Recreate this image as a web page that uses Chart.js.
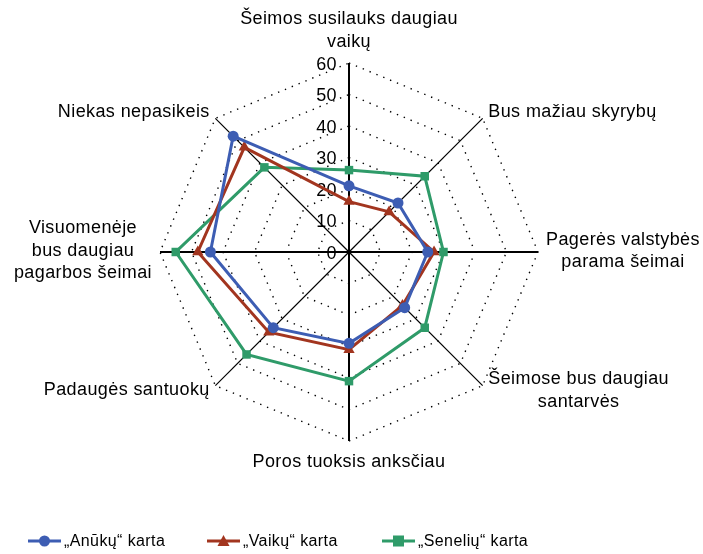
<!DOCTYPE html>
<html>
<head>
<meta charset="utf-8">
<script src="https://cdn.jsdelivr.net/npm/chart.js@4"></script>
<style>
  html, body { margin: 0; padding: 0; background: #fff; }
  #wrap { position: relative; width: 703px; height: 554px; }
  #c { position: absolute; left: 0; top: 0; }
  #legend { position: absolute; left: 0; top: 530px; width: 703px; height: 22px;
    font-family: "Liberation Sans", Arial, sans-serif; font-size: 16px; color: #000; }
  .item { position: absolute; top: 0; height: 22px; line-height: 22px; white-space: nowrap; letter-spacing: 0.4px; }
  .item canvas { vertical-align: middle; margin-right: 3px; position: relative; top: -1px; }
</style>
</head>
<body>
<div id="wrap">
  <canvas id="c" width="703" height="554"></canvas>
  <div id="legend"></div>
</div>
<script>
const categories = [
  ["Šeimos susilauks daugiau", "vaikų"],
  ["Bus mažiau skyrybų"],
  ["Pagerės valstybės", "parama šeimai"],
  ["Šeimose bus daugiau", "santarvės"],
  ["Poros tuoksis anksčiau"],
  ["Padaugės santuokų"],
  ["Visuomenėje", "bus daugiau", "pagarbos šeimai"],
  ["Niekas nepasikeis"]
];
const seriesNames = ["„Anūkų“ karta", "„Vaikų“ karta", "„Senelių“ karta"];
const anukai  = [21, 22, 25, 25, 29, 34, 44, 52];
const vaikai  = [16, 18, 27, 24, 31, 36, 48, 47];
const seneliai = [26, 34, 30, 34, 41, 46, 55, 38];
const tickValues = [0, 10, 20, 30, 40, 50, 60];

const colors = ["#3D5DB3", "#A2351F", "#2F9B69"];
const markers = ["circle", "triangle", "rect"];
const markerRadius = [5.5, 6.5, 6];
const FONT = '"Liberation Sans", Arial, sans-serif';

const dataSets = [anukai, vaikai, seneliai].map((d, i) => ({
  label: seriesNames[i],
  data: d,
  borderColor: colors[i],
  backgroundColor: colors[i],
  fill: false,
  borderWidth: 3,
  pointStyle: markers[i],
  pointRadius: markerRadius[i],
  pointHoverRadius: markerRadius[i],
  pointBackgroundColor: colors[i],
  pointBorderColor: colors[i],
  pointBorderWidth: 0
}));

const customLabels = {
  id: 'customLabels',
  beforeDatasetsDraw(chart) {
    const s = chart.scales.r;
    const ctx = chart.ctx;
    ctx.save();
    ctx.letterSpacing = '0.4px';
    ctx.font = '18px ' + FONT;
    ctx.fillStyle = '#000';
    ctx.textAlign = 'right';
    ctx.textBaseline = 'middle';
    tickValues.forEach(v => {
      const d = s.getDistanceFromCenterForValue(v);
      ctx.fillText(String(v), s.xCenter - 12, s.yCenter - d + 2);
    });
    ctx.restore();
  },
  afterDraw(chart) {
    const s = chart.scales.r;
    const ctx = chart.ctx;
    ctx.save();
    ctx.letterSpacing = '0.4px';
    ctx.font = '18px ' + FONT;
    ctx.fillStyle = '#000';
    ctx.textAlign = 'center';
    ctx.textBaseline = 'middle';
    const lh = 22.5;
    categories.forEach((lines, i) => {
      const p = s.getPointPosition(i, s.drawingArea + 8);
      const ang = s.getIndexAngle(i) - Math.PI / 2;
      const cx = Math.cos(ang), sy = Math.sin(ang);
      const w = Math.max(...lines.map(t => ctx.measureText(t).width));
      const h = lines.length * lh;
      let x, top;
      if (Math.abs(cx) < 0.01) x = p.x;
      else if (cx > 0) x = p.x + w / 2;
      else x = p.x - w / 2;
      if (sy < -0.99) top = p.y - h - 2;
      else if (sy > 0.99) top = p.y + 2;
      else top = p.y - h / 2 - 1;
      lines.forEach((t, k) => ctx.fillText(t, x, top + lh * k + lh / 2));
    });
    ctx.restore();
  }
};

new Chart(document.getElementById('c'), {
  type: 'radar',
  data: { labels: categories, datasets: dataSets },
  options: {
    responsive: false,
    animation: false,
    events: [],
    layout: { padding: { top: 63, bottom: 113, left: 100, right: 105 } },
    plugins: { legend: { display: false }, tooltip: { enabled: false } },
    elements: { line: { tension: 0 } },
    scales: {
      r: {
        min: 0, max: 60,
        ticks: { display: false, stepSize: 10 },
        pointLabels: { display: false },
        grid: { color: '#000', lineWidth: 1.4 },
        border: { dash: [1.4, 6] },
        angleLines: {
          color: '#000',
          lineWidth: (c) => (c.index % 2 === 0 ? 2 : 1.2)
        }
      }
    }
  },
  plugins: [customLabels]
});

// legend (HTML)
const legend = document.getElementById('legend');
const legendX = [28, 207, 382];
seriesNames.forEach((name, i) => {
  const div = document.createElement('div');
  div.className = 'item';
  div.style.left = legendX[i] + 'px';
  const mk = document.createElement('canvas');
  mk.width = 33; mk.height = 14;
  const g = mk.getContext('2d');
  g.strokeStyle = colors[i]; g.fillStyle = colors[i]; g.lineWidth = 3;
  g.beginPath(); g.moveTo(0, 7); g.lineTo(33, 7); g.stroke();
  if (i === 0) { g.beginPath(); g.arc(16.5, 7, 5.5, 0, Math.PI * 2); g.fill(); }
  if (i === 1) { g.beginPath(); g.moveTo(16.5, 1); g.lineTo(22.5, 12); g.lineTo(10.5, 12); g.closePath(); g.fill(); }
  if (i === 2) { g.fillRect(11, 1.5, 11, 11); }
  div.appendChild(mk);
  div.appendChild(document.createTextNode(name));
  legend.appendChild(div);
});
</script>
</body>
</html>
